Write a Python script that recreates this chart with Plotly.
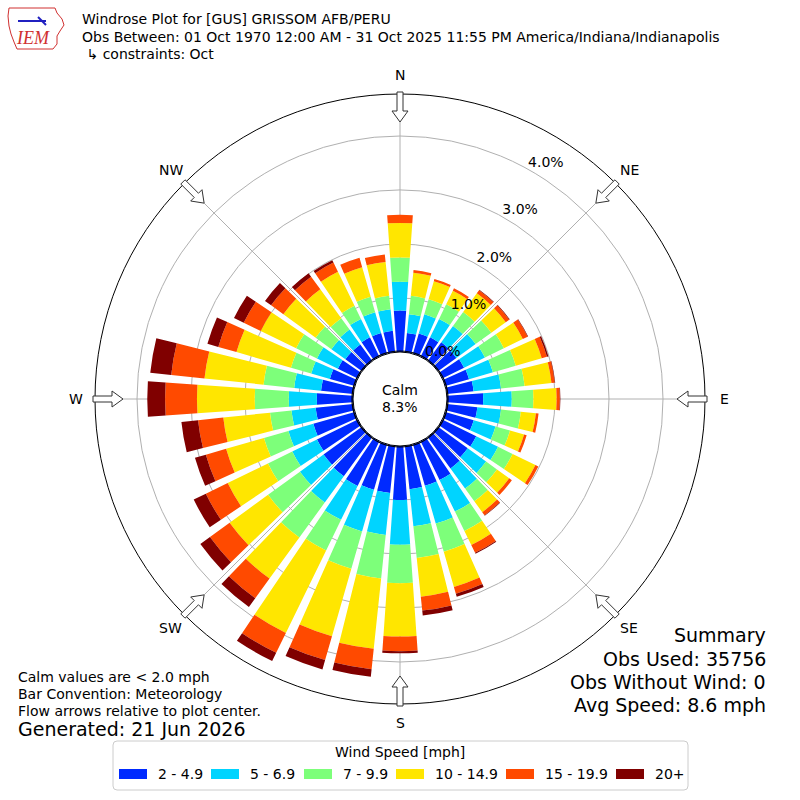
import math
import plotly.graph_objects as go

# ---------------- data ----------------
directions = list(range(0, 360, 10))
speed_bins = ["2 - 4.9", "5 - 6.9", "7 - 9.9", "10 - 14.9", "15 - 19.9", "20+"]
colors = ["#002aff", "#00d4ff", "#7dff7a", "#ffe600", "#ff4a00", "#800000"]

# percent of observations per direction (0,10,...,350) for each speed bin
pct_2_5 = [0.77, 0.36, 0.39, 0.40, 0.43, 0.42, 0.45, 0.46, 0.50, 0.67,
           0.57, 0.55, 0.70, 0.68, 0.72, 0.80, 0.80, 0.81, 1.00, 0.88,
           0.88, 0.92, 0.90, 0.88, 0.84, 0.80, 0.70, 0.67, 0.60, 0.48,
           0.41, 0.38, 0.38, 0.40, 0.40, 0.40]
pct_5_7 = [0.53, 0.35, 0.37, 0.38, 0.37, 0.44, 0.43, 0.46, 0.51, 0.53,
           0.44, 0.42, 0.45, 0.42, 0.46, 0.65, 0.73, 0.69, 0.83, 0.78,
           0.80, 0.70, 0.60, 0.54, 0.51, 0.48, 0.45, 0.52, 0.50, 0.36,
           0.43, 0.32, 0.34, 0.38, 0.40, 0.40]
pct_7_10 = [0.45, 0.34, 0.29, 0.30, 0.32, 0.36, 0.39, 0.44, 0.44, 0.40,
            0.37, 0.28, 0.30, 0.25, 0.29, 0.40, 0.54, 0.59, 0.71, 0.81,
            0.72, 0.63, 0.80, 0.73, 0.50, 0.47, 0.40, 0.63, 0.57, 0.39,
            0.43, 0.36, 0.26, 0.27, 0.30, 0.25]
pct_10_15 = [0.64, 0.43, 0.35, 0.28, 0.43, 0.33, 0.39, 0.50, 0.50, 0.43,
             0.28, 0.27, 0.47, 0.28, 0.25, 0.29, 0.68, 0.72, 0.99, 1.31,
             1.30, 1.70, 0.94, 0.88, 0.83, 0.73, 0.87, 1.07, 1.10, 1.05,
             0.73, 0.74, 0.66, 0.70, 0.57, 0.63]
pct_15_20 = [0.15, 0.05, 0.04, 0.05, 0.07, 0.08, 0.10, 0.10, 0.06, 0.06,
             0.05, 0.05, 0.06, 0.06, 0.07, 0.16, 0.13, 0.26, 0.27, 0.38,
             0.46, 0.41, 0.45, 0.45, 0.45, 0.39, 0.47, 0.59, 0.62, 0.35,
             0.35, 0.28, 0.29, 0.19, 0.18, 0.14]
pct_20p = [0.00, 0.00, 0.00, 0.00, 0.01, 0.01, 0.01, 0.03, 0.01, 0.01,
           0.00, 0.00, 0.00, 0.00, 0.01, 0.02, 0.06, 0.09, 0.04, 0.14,
           0.18, 0.17, 0.20, 0.22, 0.25, 0.21, 0.31, 0.33, 0.39, 0.21,
           0.20, 0.14, 0.08, 0.05, 0.00, 0.00]
series = [pct_2_5, pct_5_7, pct_7_10, pct_10_15, pct_15_20, pct_20p]

radial_ticks = [0, 1, 2, 3, 4]
radial_labels = ["0.0%", "1.0%", "2.0%", "3.0%", "4.0%"]
compass = ["N", "NE", "E", "SE", "S", "SW", "W", "NW"]
compass_deg = [0, 45, 90, 135, 180, 225, 270, 315]
calm_pct = "8.3%"

# ---------------- geometry (pixels on an 800x800 page) ----------------
W = H = 800
CX, CY = 400, 399          # polar centre
R_OUT = 305                # outer circle radius
R_HOLE = 47                # calm circle radius
PX_PER_PCT = 54.0
RMAX = (R_OUT - R_HOLE) / PX_PER_PCT


def px(x, y):
    return x / W, 1 - y / H


def note(x, y, text, size=14, xanchor="left", **kw):
    return dict(x=x / W, y=1 - y / H, xref="paper", yref="paper", text=text, showarrow=False,
                xanchor=xanchor, yanchor="middle", font=dict(size=size, **kw))


fig = go.Figure()
for vals, name, col in zip(series, speed_bins, colors):
    fig.add_trace(go.Barpolar(r=vals, theta=directions, name=name, width=8,
                              marker=dict(color=col, line=dict(width=0)),
                              showlegend=False))

# radial tick labels through the polar scale
fig.add_trace(go.Scatterpolar(r=[t + 0.1 for t in radial_ticks], theta=[28.5] * len(radial_ticks),
                              mode="text", text=radial_labels, textposition="middle right",
                              textfont=dict(family="DejaVu Sans", size=14, color="black"),
                              showlegend=False, hoverinfo="skip", cliponaxis=False))

fig.update_layout(
    width=W, height=H, margin=dict(l=0, r=0, t=0, b=0),
    paper_bgcolor="white", plot_bgcolor="white", showlegend=False,
    font=dict(family="DejaVu Sans", size=14, color="black"),
    polar=dict(
        domain=dict(x=[(CX - R_OUT) / W, (CX + R_OUT) / W],
                    y=[1 - (CY + R_OUT) / H, 1 - (CY - R_OUT) / H]),
        hole=R_HOLE / R_OUT,
        bgcolor="white",
        barmode="stack",
        radialaxis=dict(range=[0, RMAX], tickvals=radial_ticks, showticklabels=False,
                        ticks="", showline=False, gridcolor="#b0b0b0", gridwidth=1),
        angularaxis=dict(rotation=90, direction="clockwise", tickvals=compass_deg,
                         showticklabels=False, ticks="", showline=True,
                         linecolor="black", linewidth=1, gridcolor="#b0b0b0", gridwidth=1),
    ),
)

shapes = []
annotations = []

# calm circle outline
x0, y1 = px(CX - R_HOLE - 1, CY - R_HOLE - 1)
x1, y0 = px(CX + R_HOLE + 1, CY + R_HOLE + 1)
shapes.append(dict(type="circle", xref="paper", yref="paper", x0=x0, x1=x1, y0=y0, y1=y1,
                   line=dict(color="black", width=1.2)))
annotations.append(note(CX, 390, "Calm", xanchor="center"))
annotations.append(note(CX, 407, calm_pct, xanchor="center"))

# flow arrows and compass labels
arrow_local = [(307, -3), (288, -3), (288, -8), (277, 0), (288, 8), (288, 3), (307, 3)]
for lab, deg in zip(compass, compass_deg):
    t = math.radians(deg)
    dx, dy = math.sin(t), -math.cos(t)
    qx, qy = math.cos(t), math.sin(t)
    pts = []
    for r, w in arrow_local:
        pts.append(px(CX + r * dx + w * qx, CY + r * dy + w * qy))
    path = "M " + " L ".join(f"{a:.5f},{b:.5f}" for a, b in pts) + " Z"
    shapes.append(dict(type="path", xref="paper", yref="paper", path=path,
                       fillcolor="white", line=dict(color="#333333", width=1)))
    annotations.append(note(CX + 324 * dx, CY + 324 * dy, lab, xanchor="center"))

# titles
title_lines = ["Windrose Plot for [GUS] GRISSOM AFB/PERU",
               "Obs Between: 01 Oct 1970 12:00 AM - 31 Oct 2025 11:55 PM America/Indiana/Indianapolis",
               " \u21b3 constraints: Oct"]
for txt, yy in zip(title_lines, [19, 37, 54]):
    annotations.append(note(80, yy, txt))

# IEM logo (simple)
iowa = [(9, 8), (55, 8), (57, 13), (62, 19), (64, 25), (60, 31), (57, 36), (57, 44), (53, 49),
        (17, 49), (14, 42), (11, 34), (9, 26), (8, 16)]
path = "M " + " L ".join(f"{a:.5f},{b:.5f}" for a, b in (px(x, y) for x, y in iowa)) + " Z"
shapes.append(dict(type="path", xref="paper", yref="paper", path=path,
                   line=dict(color="#d03030", width=1)))
a = px(18, 21); b = px(46, 21)
shapes.append(dict(type="line", xref="paper", yref="paper", x0=a[0], y0=a[1], x1=b[0], y1=b[1],
                   line=dict(color="#2020c0", width=2)))
a = px(38, 17); b = px(46, 25)
shapes.append(dict(type="line", xref="paper", yref="paper", x0=a[0], y0=a[1], x1=b[0], y1=b[1],
                   line=dict(color="#2020c0", width=2)))
annotations.append(note(33, 38, "<i>IEM</i>", size=18, xanchor="center",
                        family="Liberation Serif", color="#d03030"))

# bottom-left notes
notes = ["Calm values are < 2.0 mph", "Bar Convention: Meteorology",
         "Flow arrows relative to plot center."]
for txt, yy in zip(notes, [677, 694, 711]):
    annotations.append(note(16, yy, txt))
annotations.append(note(16, 729, "Generated: 21 Jun 2026", size=19))

# summary
summary = ["Summary", "Obs Used: 35756", "Obs Without Wind: 0", "Avg Speed: 8.6 mph"]
for txt, yy in zip(summary, [635, 659, 682, 705]):
    annotations.append(note(768, yy, txt, size=19, xanchor="right"))

# legend box
lx0, lx1, ly0, ly1, rc = 113, 688, 741, 790, 4
pts = [("M", lx0 + rc, ly0), ("L", lx1 - rc, ly0), ("Q", lx1, ly0, lx1, ly0 + rc),
       ("L", lx1, ly1 - rc), ("Q", lx1, ly1, lx1 - rc, ly1), ("L", lx0 + rc, ly1),
       ("Q", lx0, ly1, lx0, ly1 - rc), ("L", lx0, ly0 + rc), ("Q", lx0, ly0, lx0 + rc, ly0)]
segs = []
for p in pts:
    if p[0] == "Q":
        a = px(p[1], p[2]); b = px(p[3], p[4])
        segs.append(f"Q {a[0]:.5f},{a[1]:.5f} {b[0]:.5f},{b[1]:.5f}")
    else:
        a = px(p[1], p[2])
        segs.append(f"{p[0]} {a[0]:.5f},{a[1]:.5f}")
shapes.append(dict(type="path", xref="paper", yref="paper", path=" ".join(segs) + " Z",
                   fillcolor="white", line=dict(color="#cccccc", width=1)))
annotations.append(note(400, 752, "Wind Speed [mph]", size=14, xanchor="center"))
patch_x = [119, 211, 304, 396, 506, 616]
for xx, lab, col in zip(patch_x, speed_bins, colors):
    a = px(xx, 769); b = px(xx + 28, 779)
    shapes.append(dict(type="rect", xref="paper", yref="paper", x0=a[0], x1=b[0], y0=b[1], y1=a[1],
                       fillcolor=col, line=dict(width=0)))
    annotations.append(note(xx + 37, 774, lab))

fig.update_layout(shapes=shapes, annotations=annotations)
fig.write_html("out.html", config={"displayModeBar": False},
               post_script="document.body.style.margin='0';")
